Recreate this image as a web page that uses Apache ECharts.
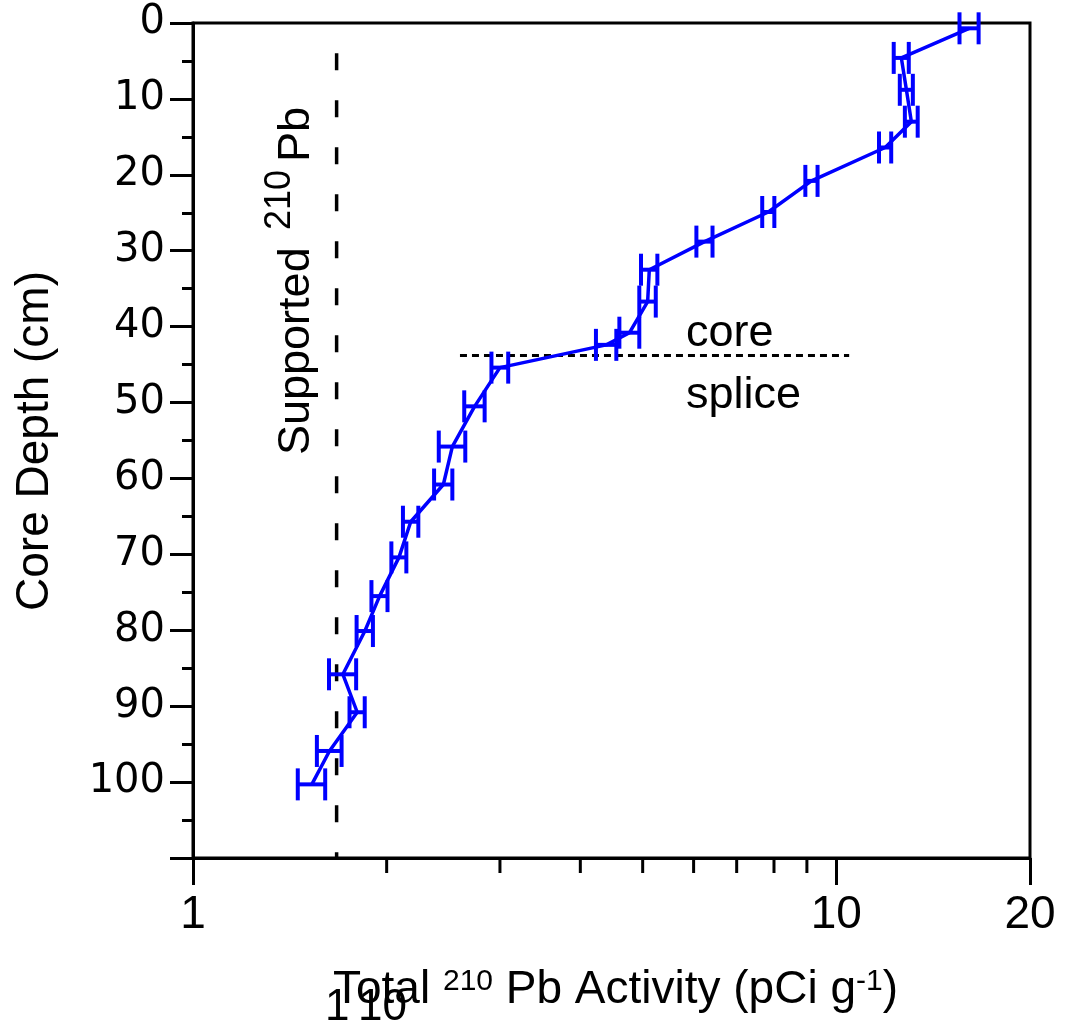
<!DOCTYPE html>
<html><head><meta charset="utf-8">
<script src="https://cdn.jsdelivr.net/npm/echarts@6/dist/echarts.min.js"></script>
<style>html,body{margin:0;padding:0;background:#fff}#c{width:1065px;height:1036px}</style>
</head><body><div id="c"></div>
<script>
// ---- data ----
const depthCm = [0.7, 4.6, 8.8, 13.0, 16.4, 20.8, 24.9, 28.8, 32.5, 36.7, 40.8, 42.4, 45.4, 50.5, 55.8, 60.8, 65.7, 70.4, 75.5, 80.1, 85.8, 90.8, 95.9, 100.3];
const activity = [16.09, 12.62, 12.85, 13.08, 11.91, 9.15, 7.84, 6.24, 5.12, 5.09, 4.77, 4.39, 3.00, 2.74, 2.53, 2.45, 2.18, 2.09, 1.95, 1.85, 1.71, 1.80, 1.63, 1.53];
const activityErr = [0.55, 0.34, 0.30, 0.30, 0.26, 0.20, 0.17, 0.18, 0.15, 0.15, 0.17, 0.16, 0.09, 0.10, 0.12, 0.08, 0.06, 0.056, 0.056, 0.054, 0.083, 0.049, 0.072, 0.075];
const supportedPb = 1.672;
const supportedDepths = [4, 110];
const spliceDepth = 43.8;
const spliceActivityRange = [2.60, 10.47];
const xMin = 1, xMax = 20;
const yMin = 0, yMax = 110, yStep = 10;
const xMinorTickValues = [2, 3, 4, 5, 6, 7, 8, 9];
const coreLabel = 'core', spliceLabel = 'splice';

const BLUE = '#0000FF';
const chart = echarts.init(document.getElementById('c'), null, {renderer: 'canvas'});

const mainLine = depthCm.map((d, i) => [activity[i], d]);
const errData = depthCm.map((d, i) => [activity[i], d, activityErr[i]]);

function errRender(params, api) {
  const v = api.value(0), d = api.value(1), e = api.value(2);
  const p1 = api.coord([v - e, d]);
  const p2 = api.coord([v + e, d]);
  const h = 16;
  const st = {stroke: BLUE, lineWidth: 4};
  return {type: 'group', children: [
    {type: 'line', shape: {x1: p1[0], y1: p1[1], x2: p2[0], y2: p2[1]}, style: st},
    {type: 'line', shape: {x1: p1[0], y1: p1[1] - h, x2: p1[0], y2: p1[1] + h}, style: st},
    {type: 'line', shape: {x1: p2[0], y1: p2[1] - h, x2: p2[0], y2: p2[1] + h}, style: st}
  ]};
}
function minorTickRender(params, api) {
  const p = api.coord([api.value(0), yMax]);
  return {type: 'line', shape: {x1: p[0], y1: p[1], x2: p[0], y2: p[1] + 15}, style: {stroke: '#000', lineWidth: 3}};
}

const FONT = 'Liberation Sans';
const option = {
  animation: false,
  backgroundColor: '#fff',
  grid: {left: 193, top: 23, right: 35, bottom: 178, show: true, borderColor: '#000', borderWidth: 3, backgroundColor: 'transparent'},
  xAxis: {
    type: 'log', logBase: 10, min: xMin, max: xMax, position: 'bottom',
    axisLine: {show: true, onZero: false, lineStyle: {color: '#000', width: 3}},
    axisTick: {show: true, length: 27, lineStyle: {color: '#000', width: 3}},
    axisLabel: {margin: 34, fontSize: 46, fontFamily: FONT, color: '#000', showMaxLabel: true, showMinLabel: true},
    splitLine: {show: false}, minorTick: {show: false}
  },
  yAxis: {
    type: 'value', inverse: true, min: yMin, max: yMax, interval: yStep,
    axisLine: {show: true, onZero: false, lineStyle: {color: '#000', width: 3}},
    axisTick: {show: true, length: 23, lineStyle: {color: '#000', width: 3}},
    minorTick: {show: true, splitNumber: 2, length: 11, lineStyle: {color: '#000', width: 3}},
    axisLabel: {margin: 28, fontSize: 40, fontFamily: 'DejaVu Sans', color: '#000', showMaxLabel: false},
    splitLine: {show: false}, minorSplitLine: {show: false}
  },
  series: [
    {type: 'line', data: supportedDepths.map(d => [supportedPb, d]), symbol: 'none',
     lineStyle: {color: '#000', width: 3.5, type: [17, 30]}, z: 2},
    {type: 'line', data: spliceActivityRange.map(v => [v, spliceDepth]), symbol: 'none',
     lineStyle: {color: '#000', width: 3, type: [7, 5]}, z: 2},
    {type: 'line', data: mainLine, symbol: 'none', lineStyle: {color: BLUE, width: 3.5}, z: 3},
    {type: 'custom', data: errData, renderItem: errRender, encode: {x: 0, y: 1}, z: 4},
    {type: 'custom', data: xMinorTickValues.map(v => [v, yMax]), renderItem: minorTickRender, encode: {x: 0, y: 1}, clip: false, z: 5}
  ],
  graphic: [
    {type: 'text', x: 35, y: 441, rotation: Math.PI / 2,
     style: {text: 'Core Depth (cm)', font: '46px "Liberation Sans"', fill: '#000', align: 'center', verticalAlign: 'middle'}},
    {type: 'text', x: 333, y: 990,
     style: {text: '{a|Total }{s|210}{a| Pb Activity (pCi g}{s|-1}{a|)}', fill: '#000', align: 'left', verticalAlign: 'middle',
       rich: {a: {fontSize: 46, fontFamily: FONT, fill: '#000'}, s: {fontSize: 30, fontFamily: FONT, fill: '#000', verticalAlign: 'top'}}}},
    {type: 'text', x: 325, y: 1008, style: {text: '1', font: '44px "Liberation Sans"', fill: '#000', align: 'left', verticalAlign: 'middle'}},
    {type: 'text', x: 358, y: 1008, style: {text: '10', font: '44px "Liberation Sans"', fill: '#000', align: 'left', verticalAlign: 'middle'}},
    {type: 'text', x: 297, y: 455, rotation: Math.PI / 2,
     style: {text: 'Supported', font: '45px "Liberation Sans"', fill: '#000', align: 'left', verticalAlign: 'middle'}},
    {type: 'text', x: 280, y: 230, rotation: Math.PI / 2,
     style: {text: '210', font: '36px "Liberation Sans"', fill: '#000', align: 'left', verticalAlign: 'middle'}},
    {type: 'text', x: 297, y: 162, rotation: Math.PI / 2,
     style: {text: 'Pb', font: '45px "Liberation Sans"', fill: '#000', align: 'left', verticalAlign: 'middle'}},
    {type: 'text', x: 686, y: 334, style: {text: coreLabel, font: '45px "Liberation Sans"', fill: '#000', align: 'left', verticalAlign: 'middle'}},
    {type: 'text', x: 686, y: 396, style: {text: spliceLabel, font: '45px "Liberation Sans"', fill: '#000', align: 'left', verticalAlign: 'middle'}}
  ]
};
chart.setOption(option);
</script>
</body></html>
